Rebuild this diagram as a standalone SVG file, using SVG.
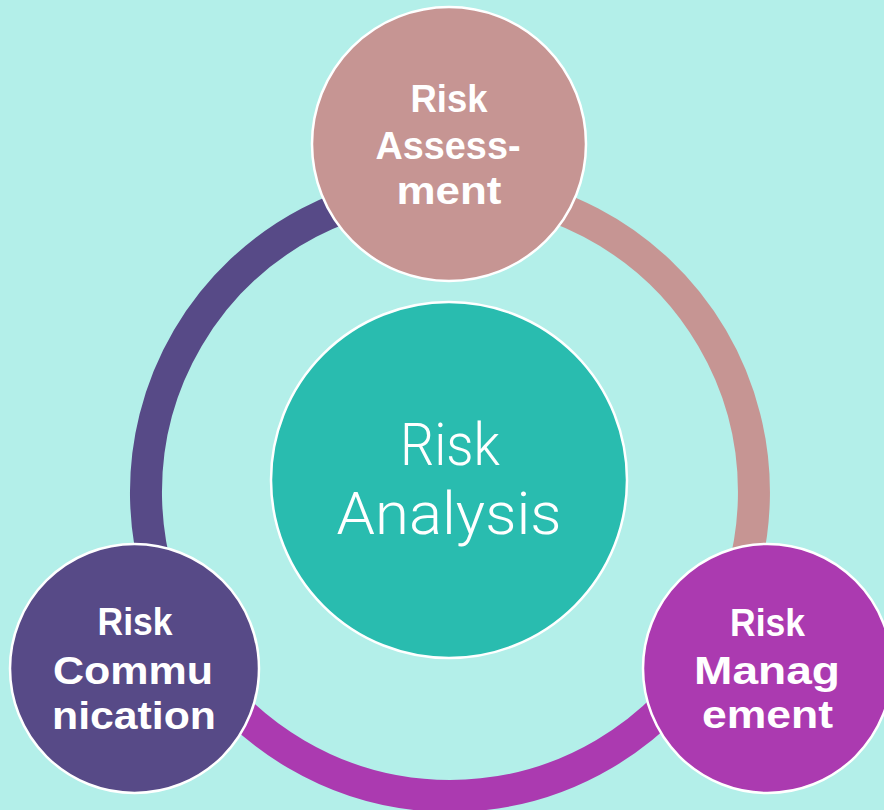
<svg xmlns="http://www.w3.org/2000/svg" width="884" height="810" viewBox="0 0 884 810">
<style>
.ring{fill:none;stroke-width:32;stroke-linecap:butt}
.node{stroke:#ffffff;stroke-width:2.5}
.lbl{font-family:"Liberation Sans",Arial,sans-serif;font-weight:700;font-size:39px;fill:#ffffff;text-anchor:middle}
.big{font-family:Roboto,"Open Sans",sans-serif;font-weight:300;font-size:59px;fill:#ffffff;text-anchor:middle}
</style>
<rect width="884" height="810" fill="#B3EFE9"/>
<g id="connectors">
<path class="ring" stroke="#574A87" d="M184.6,640.3 A304,304 0 0 1 450,188"/>
<path class="ring" stroke="#C69593" d="M450,188 A304,304 0 0 1 715.6,639.8"/>
<path class="ring" stroke="#AB3AB0" d="M715.6,639.8 A304,304 0 0 1 184.6,640.3"/>
</g>
<g id="risk-analysis">
<circle class="node" cx="449" cy="480" r="178" fill="#29BCAF"/>
<text class="big" x="450" y="465" textLength="100" lengthAdjust="spacingAndGlyphs">Risk</text>
<text class="big" x="449" y="534" textLength="225" lengthAdjust="spacingAndGlyphs">Analysis</text>
</g>
<g id="risk-assessment">
<circle class="node" cx="449" cy="144" r="137" fill="#C69593"/>
<text class="lbl" x="449" y="112" textLength="77" lengthAdjust="spacingAndGlyphs">Risk</text>
<text class="lbl" x="448" y="159" textLength="145" lengthAdjust="spacingAndGlyphs">Assess-</text>
<text class="lbl" x="449" y="204" textLength="105" lengthAdjust="spacingAndGlyphs">ment</text>
</g>
<g id="risk-communication">
<circle class="node" cx="134.5" cy="668.5" r="124.5" fill="#574A87"/>
<text class="lbl" x="135" y="635" textLength="75" lengthAdjust="spacingAndGlyphs">Risk</text>
<text class="lbl" x="133" y="684" textLength="160" lengthAdjust="spacingAndGlyphs">Commu</text>
<text class="lbl" x="134" y="729" textLength="164" lengthAdjust="spacingAndGlyphs">nication</text>
</g>
<g id="risk-management">
<circle class="node" cx="767.5" cy="668.5" r="124.5" fill="#AB3AB0"/>
<text class="lbl" x="767.5" y="636" textLength="75" lengthAdjust="spacingAndGlyphs">Risk</text>
<text class="lbl" x="767" y="684" textLength="146" lengthAdjust="spacingAndGlyphs">Manag</text>
<text class="lbl" x="767.5" y="728" textLength="131" lengthAdjust="spacingAndGlyphs">ement</text>
</g>
</svg>
